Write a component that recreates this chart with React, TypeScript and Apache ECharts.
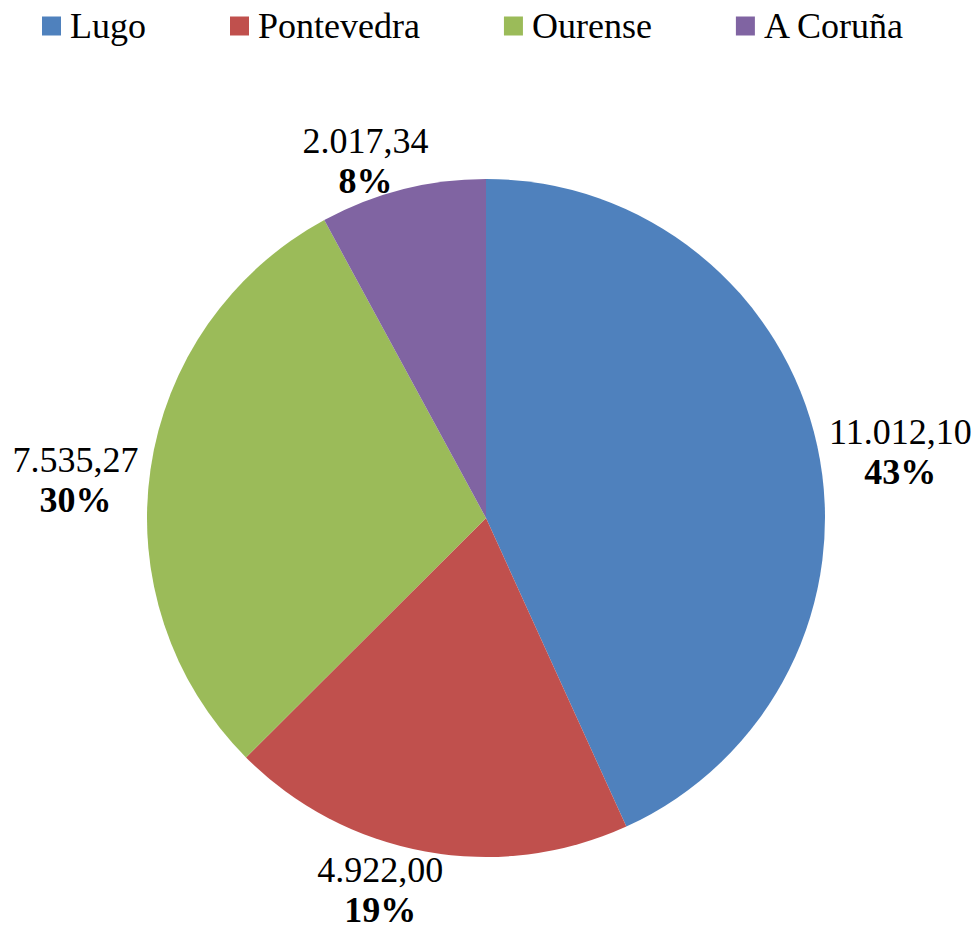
import React, { useEffect, useRef } from "react";
import * as echarts from "echarts";

const categories = ["Lugo", "Pontevedra", "Ourense", "A Coruña"];
const values = [11012.1, 4922.0, 7535.27, 2017.34];
const colors = ["#4F81BD", "#C0504D", "#9BBB59", "#8064A2"];

// label nudges (pixels) relative to the outer arc point at each slice's mid-angle
const labelNudge = [
  [83, 6],
  [-45, 38],
  [-75, 11],
  [-37, -28],
];

const CX = 486;
const CY = 518;
const R = 339;

function fmtEs(v: number): string {
  const [i, d] = v.toFixed(2).split(".");
  return i.replace(/\B(?=(\d{3})+(?!\d))/g, ".") + "," + d;
}

export default function App() {
  const ref = useRef<HTMLDivElement>(null);
  useEffect(() => {
    document.body.style.margin = "0";
    if (!ref.current) return;
    const chart = echarts.init(ref.current, undefined, { renderer: "svg" });
    const total = values.reduce((a, b) => a + b, 0);
    const mids: number[] = [];
    let cum = 0;
    values.forEach((v) => {
      mids.push(((cum + v / 2) / total) * Math.PI * 2);
      cum += v;
    });
    const font = "Liberation Serif";
    chart.setOption({
      animation: false,
      color: colors,
      textStyle: { fontFamily: font },
      legend: {
        data: categories,
        left: 37,
        top: 3,
        itemWidth: 19,
        itemHeight: 19,
        itemGap: 84,
        icon: "rect",
        textStyle: {
          fontFamily: font,
          fontSize: 36,
          color: "#000",
          padding: [0, 0, 0, 4],
        },
      },
      series: [
        {
          type: "pie",
          center: [CX, CY],
          radius: R,
          startAngle: 90,
          clockwise: true,
          avoidLabelOverlap: false,
          data: categories.map((c, i) => ({ name: c, value: values[i] })),
          itemStyle: { borderWidth: 0 },
          emphasis: { disabled: true },
          labelLine: { show: false },
          label: {
            show: true,
            position: "outside",
            fontFamily: font,
            color: "#000",
            formatter: (p: any) =>
              `{v|${fmtEs(p.value)}}\n{p|${Math.round(p.percent)}%}`,
            rich: {
              v: { fontFamily: font, fontSize: 36, lineHeight: 40, color: "#000", align: "center" },
              p: {
                fontFamily: font,
                fontSize: 36,
                lineHeight: 40,
                fontWeight: "bold",
                color: "#000",
                align: "center",
              },
            },
          },
          labelLayout: (params: any) => {
            const i = params.dataIndex;
            const a = mids[i];
            const x = CX + R * Math.sin(a) + labelNudge[i][0];
            const y = CY - R * Math.cos(a) + labelNudge[i][1];
            return { x, y, align: "center", verticalAlign: "middle" };
          },
        },
      ],
    });
    return () => chart.dispose();
  }, []);
  return <div ref={ref} style={{ width: 977, height: 930 }} />;
}
